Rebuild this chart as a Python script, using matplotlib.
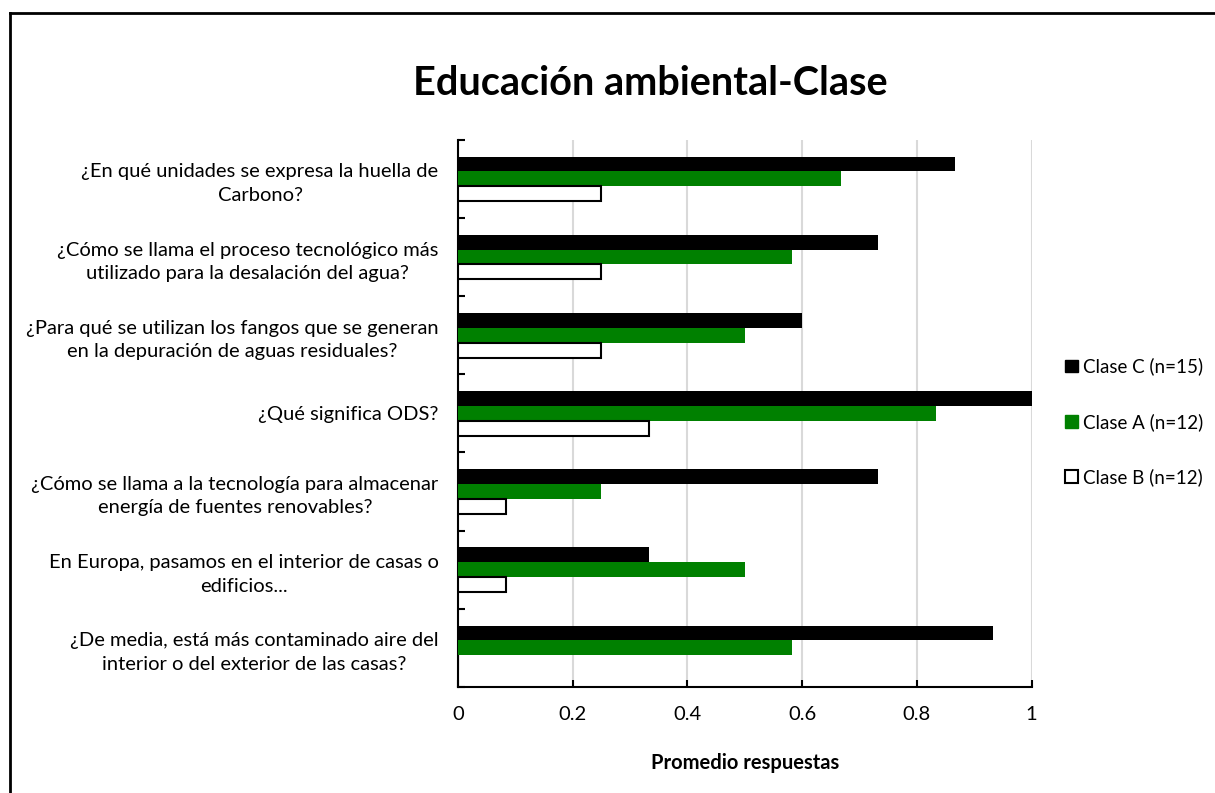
import matplotlib.pyplot as plt
import numpy as np
from matplotlib.lines import Line2D
from matplotlib.patches import Patch

plt.rcParams['font.family'] = ['Lato', 'DejaVu Sans']

preguntas = [
    '¿En qué unidades se expresa la huella de\nCarbono?',
    '¿Cómo se llama el proceso tecnológico más\nutilizado para la desalación del agua?',
    '¿Para qué se utilizan los fangos que se generan\nen la depuración de aguas residuales?',
    '¿Qué significa ODS?',
    '¿Cómo se llama a la tecnología para almacenar\nenergía de fuentes renovables?',
    'En Europa, pasamos en el interior de casas o\nedificios...',
    '¿De media, está más contaminado aire del\ninterior o del exterior de las casas?',
]
clase_c = [0.867, 0.733, 0.600, 1.000, 0.733, 0.333, 0.933]
clase_a = [0.667, 0.583, 0.500, 0.833, 0.250, 0.500, 0.583]
clase_b = [0.250, 0.250, 0.250, 0.333, 0.083, 0.083, 0.0]
x_ticks = [0, 0.2, 0.4, 0.6, 0.8, 1.0]
x_labels = ['0', '0.2', '0.4', '0.6', '0.8', '1']

fig = plt.figure(figsize=(12.15, 7.93), dpi=100)
ax = fig.add_axes([0.377, 0.1337, 0.472, 0.690])

y = np.arange(len(preguntas))
h = 0.19
ax.barh(y - h, clase_c, height=h, color='black', label='Clase C (n=15)', zorder=3)
ax.barh(y, clase_a, height=h, color='#008000', label='Clase A (n=12)', zorder=3)
ax.barh(y + h, clase_b, height=h, color='white', edgecolor='black',
        linewidth=1.5, label='Clase B (n=12)', zorder=3)

ax.set_xlim(0, 1)
ax.set_ylim(len(preguntas) - 0.5, -0.5)
ax.set_xticks(x_ticks)
ax.set_xticklabels(x_labels, fontsize=14.5)
ax.set_yticks(y)
ax.set_yticklabels(preguntas, fontsize=14.5, multialignment='center',
                   linespacing=1.45)
ax.set_yticks(np.arange(len(preguntas) + 1) - 0.5, minor=True)
ax.tick_params(axis='y', which='major', length=0, pad=14)
ax.tick_params(axis='y', which='minor', direction='in', length=5, width=1.5)
ax.tick_params(axis='x', direction='in', length=5, width=1.5, pad=14)

ax.grid(axis='x', color='#d9d9d9', linewidth=1.5, zorder=0)
for s in ['top', 'right']:
    ax.spines[s].set_visible(False)
for s in ['left', 'bottom']:
    ax.spines[s].set_linewidth(1.5)

ax.set_xlabel('Promedio respuestas', fontsize=14.5, fontweight='bold', labelpad=21)
fig.text(0.535, 0.895, 'Educación ambiental-Clase', fontsize=28.5,
         fontweight='bold', ha='center', va='center')

handles = [Patch(facecolor='black', edgecolor='black'),
           Patch(facecolor='#008000', edgecolor='#008000'),
           Patch(facecolor='white', edgecolor='black', linewidth=1.5)]
fig.legend(handles, ['Clase C (n=15)', 'Clase A (n=12)', 'Clase B (n=12)'],
           loc='center left', bbox_to_anchor=(0.863, 0.468), frameon=False,
           fontsize=13.5, handlelength=0.65, handleheight=0.65, handletextpad=0.3,
           labelspacing=2.0)

# outer frame (left and top edges)
fig.add_artist(Line2D([0.0085, 0.0085], [0, 0.983], color='black', linewidth=2))
fig.add_artist(Line2D([0.0085, 1.0], [0.983, 0.983], color='black', linewidth=2))

fig.savefig('out.png', dpi=100)
